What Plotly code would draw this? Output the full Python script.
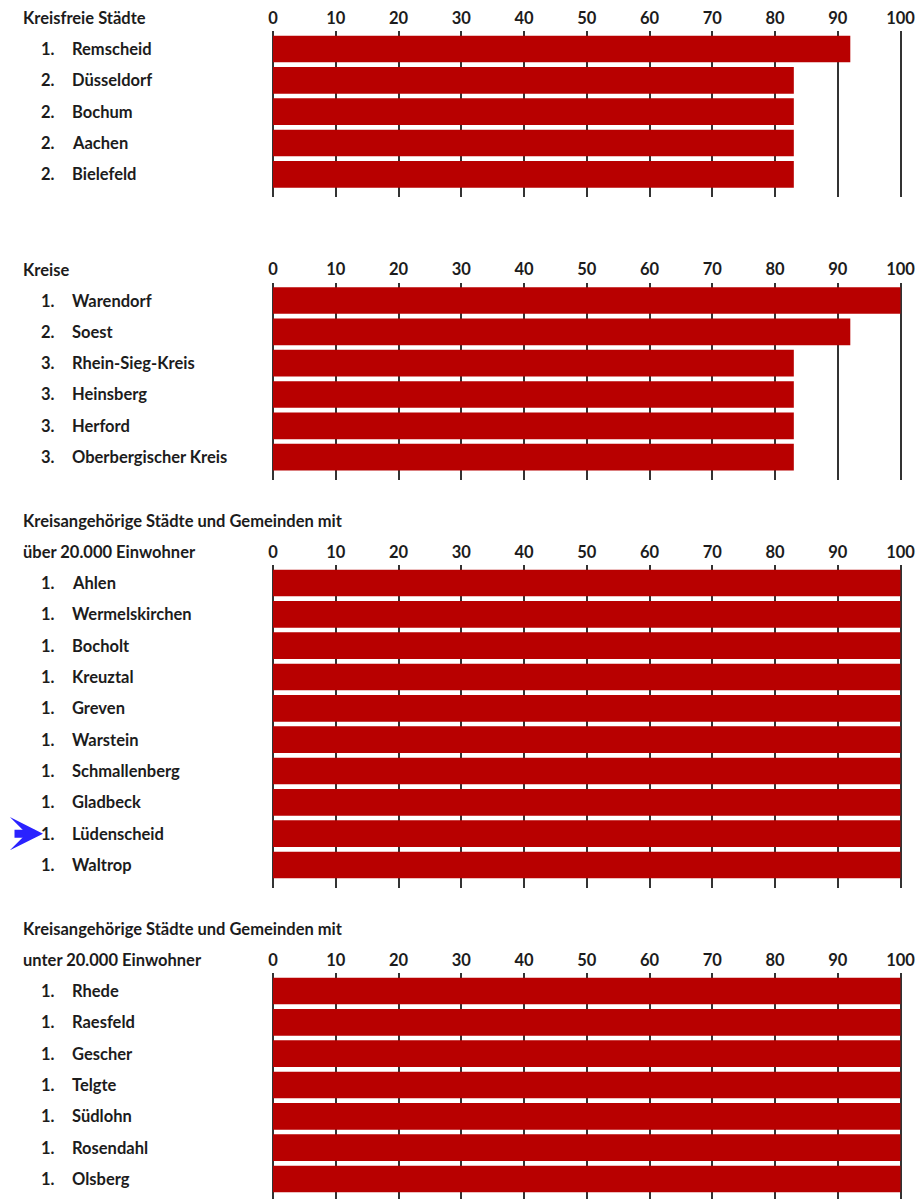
import plotly.graph_objects as go

W, H = 916, 1199

# ---- data ----
titles = [
    ["Kreisfreie Städte"],
    ["Kreise"],
    ["Kreisangehörige Städte und Gemeinden mit", "über 20.000 Einwohner"],
    ["Kreisangehörige Städte und Gemeinden mit", "unter 20.000 Einwohner"],
]
names_1 = ["Remscheid", "Düsseldorf", "Bochum", "Aachen", "Bielefeld"]
ranks_1 = ["1.", "2.", "2.", "2.", "2."]
values_1 = [92, 83, 83, 83, 83]

names_2 = ["Warendorf", "Soest", "Rhein-Sieg-Kreis", "Heinsberg", "Herford", "Oberbergischer Kreis"]
ranks_2 = ["1.", "2.", "3.", "3.", "3.", "3."]
values_2 = [100, 92, 83, 83, 83, 83]

names_3 = ["Ahlen", "Wermelskirchen", "Bocholt", "Kreuztal", "Greven", "Warstein",
           "Schmallenberg", "Gladbeck", "Lüdenscheid", "Waltrop"]
ranks_3 = ["1."] * 10
values_3 = [100] * 10

names_4 = ["Rhede", "Raesfeld", "Gescher", "Telgte", "Südlohn", "Rosendahl", "Olsberg"]
ranks_4 = ["1."] * 7
values_4 = [100] * 7

highlight = "Lüdenscheid"
tick_vals = list(range(0, 101, 10))

panels = [(names_1, ranks_1, values_1), (names_2, ranks_2, values_2),
          (names_3, ranks_3, values_3), (names_4, ranks_4, values_4)]

# ---- layout constants (pixels) ----
first_center = [49, 300.5, 583, 991]
pitch = 31.33
pad_top = 18
pad_bot = 22.7
x0_px, x100_px = 273, 900.5
xr = [-0.25, 100.25]
ppu = (x100_px - x0_px) / 100.0
x_dom = [(x0_px + xr[0] * ppu) / W, (x0_px + xr[1] * ppu) / W]

def py(px):
    return 1 - px / H

BAR = "#b80000"
TXT = "#1c1c1c"
GRID = "#333333"
FONT = dict(family="Lato", size=16.5, color=TXT, weight="bold")

fig = go.Figure()
annotations = []
for i, (names, ranks, vals) in enumerate(panels):
    n = len(names)
    top_px = first_center[i] - pad_top
    bot_px = first_center[i] + (n - 1) * pitch + pad_bot
    bot_px = min(bot_px, H)
    sfx = "" if i == 0 else str(i + 1)
    fig.add_trace(go.Bar(
        x=vals, y=names, orientation="h", width=0.85,
        marker=dict(color=BAR, line=dict(width=0)),
        xaxis="x" + sfx, yaxis="y" + sfx, showlegend=False,
        hovertemplate="%{y}: %{x}<extra></extra>",
    ))
    fig.layout["xaxis" + sfx] = dict(
        domain=x_dom, range=xr, side="top", anchor="y" + sfx,
        tickvals=tick_vals, ticks="", showline=False, automargin=False,
        showgrid=True, gridcolor=GRID, gridwidth=1.6,
        zeroline=True, zerolinecolor=GRID, zerolinewidth=1.6,
        tickfont=FONT, ticklabelstandoff=3, fixedrange=True,
        ticklabeloverflow="allow",
    )
    yr_bottom = (bot_px - first_center[i]) / pitch
    fig.layout["yaxis" + sfx] = dict(
        domain=[py(bot_px), py(top_px)], anchor="x" + sfx, automargin=False,
        type="category", categoryorder="array", categoryarray=names,
        range=[yr_bottom, -pad_top / pitch],
        showticklabels=False, showgrid=False, zeroline=False, fixedrange=True,
    )
    # titles
    tl = titles[i]
    for j, t in enumerate(tl):
        ypx = top_px - 13 - (len(tl) - 1 - j) * pitch
        annotations.append(dict(
            text=t, xref="paper", yref="paper", x=21 / W, y=py(ypx),
            xanchor="left", yanchor="middle", showarrow=False, font=FONT))
    for r, nm in zip(ranks, names):
        annotations.append(dict(
            text=r, xref="paper", yref="y" + sfx, x=57 / W, y=nm,
            xanchor="right", yanchor="middle", showarrow=False, font=FONT))
        annotations.append(dict(
            text=nm, xref="paper", yref="y" + sfx, x=70 / W, y=nm,
            xanchor="left", yanchor="middle", showarrow=False, font=FONT))
        if nm == highlight:
            annotations.append(dict(
                text="", xref="paper", yref="y" + sfx, x=43 / W, y=nm,
                ax=-30, ay=0, showarrow=True, arrowhead=3, arrowsize=0.69,
                arrowwidth=8, arrowcolor="#2a22ff", standoff=0))

fig.update_layout(
    width=W, height=H, margin=dict(l=0, r=0, t=0, b=0, autoexpand=False),
    autosize=False, template="none",
    paper_bgcolor="white", plot_bgcolor="white",
    annotations=annotations, bargap=0.15, font=FONT,
)
fig.write_html("out.html", config={"displayModeBar": False, "responsive": False})
